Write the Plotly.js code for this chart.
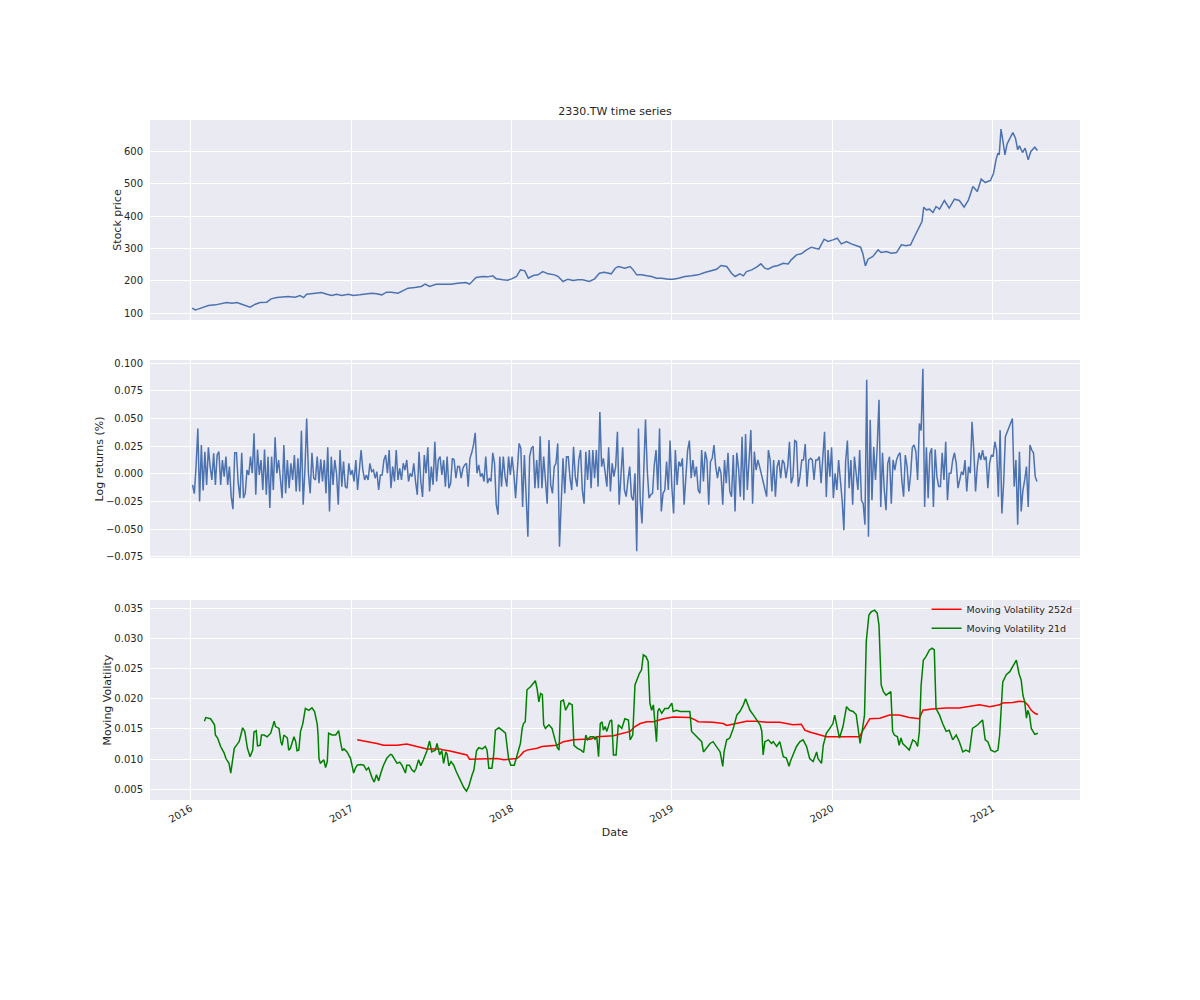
<!DOCTYPE html>
<html>
<head>
<meta charset="utf-8">
<title>2330.TW time series</title>
<script src="https://cdn.plot.ly/plotly-3.0.1.min.js"></script>
<style>
    html, body { margin: 0; padding: 0; background: #ffffff; }
    #grafico { width: 1200px; height: 1000px; }
</style>
</head>
<body>
<div id="grafico"></div>
<script>
/* ============================================================================
 * Datos
 * ========================================================================== */

const TITULO = "2330.TW time series";

// Precio de cierre
const PRICE_DATES = [
    "2016-01-04","2016-01-11","2016-01-19","2016-01-30","2016-02-10","2016-02-26","2016-03-12","2016-03-23",
    "2016-04-04","2016-04-15","2016-04-26","2016-05-08","2016-05-15","2016-05-27","2016-06-07","2016-06-22",
    "2016-07-02","2016-07-15","2016-07-30","2016-08-10","2016-08-26","2016-09-06","2016-09-14","2016-09-21",
    "2016-10-06","2016-10-25","2016-11-06","2016-11-17","2016-11-28","2016-12-10","2016-12-25","2017-01-05",
    "2017-01-20","2017-02-01","2017-02-16","2017-02-27","2017-03-11","2017-03-22","2017-04-02","2017-04-17",
    "2017-04-29","2017-05-10","2017-05-25","2017-06-09","2017-06-18","2017-06-28","2017-07-13","2017-08-01",
    "2017-08-16","2017-08-31","2017-09-19","2017-09-27","2017-10-12","2017-10-27","2017-11-08","2017-11-19",
    "2017-11-27","2017-12-12","2017-12-23","2018-01-01","2018-01-12","2018-01-21","2018-01-31","2018-02-08",
    "2018-02-19","2018-03-02","2018-03-13","2018-03-25","2018-04-09","2018-04-17","2018-04-28","2018-05-09",
    "2018-05-21","2018-06-01","2018-06-12","2018-06-27","2018-07-09","2018-07-20","2018-07-31","2018-08-16",
    "2018-08-25","2018-09-01","2018-09-09","2018-09-16","2018-09-28","2018-10-05","2018-10-13","2018-10-24",
    "2018-11-05","2018-11-16","2018-11-27","2018-12-09","2018-12-24","2019-01-04","2019-01-16","2019-01-31",
    "2019-02-15","2019-03-02","2019-03-17","2019-04-01","2019-04-13","2019-04-23","2019-05-06","2019-05-17",
    "2019-05-25","2019-06-05","2019-06-13","2019-06-20","2019-07-02","2019-07-13","2019-07-23","2019-08-01",
    "2019-08-08","2019-08-20","2019-08-31","2019-09-12","2019-09-23","2019-09-30","2019-10-12","2019-10-23",
    "2019-11-04","2019-11-15","2019-11-23","2019-12-02","2019-12-14","2019-12-23","2020-01-03","2020-01-13",
    "2020-01-22","2020-02-03","2020-02-14","2020-02-26","2020-03-06","2020-03-11","2020-03-17","2020-03-23",
    "2020-04-03","2020-04-15","2020-04-22","2020-05-04","2020-05-15","2020-05-27","2020-06-07","2020-06-18",
    "2020-06-28","2020-07-07","2020-07-16","2020-07-24","2020-07-28","2020-08-03","2020-08-10","2020-08-18",
    "2020-08-25","2020-09-02","2020-09-13","2020-09-24","2020-10-06","2020-10-17","2020-10-28","2020-11-07",
    "2020-11-17","2020-11-27","2020-12-06","2020-12-15","2020-12-27","2021-01-03","2021-01-09","2021-01-13",
    "2021-01-16","2021-01-20","2021-01-24","2021-01-29","2021-02-03","2021-02-16","2021-02-22","2021-02-27",
    "2021-03-03","2021-03-10","2021-03-16","2021-03-23","2021-03-29","2021-04-07","2021-04-13"
];
const PRICE_VALUES = [
    115.5,110.3,113.4,119.6,123.7,125.8,128.9,133,
    131,133,127.9,120.6,118.6,127.9,133,134,
    144.4,148.5,151.6,151.6,149.5,154.7,148.5,158.8,
    160.9,164,158.8,154.7,158.8,154.7,158.8,154.7,
    156.8,159.9,161.9,159.9,156.8,165,165,161.9,
    170.2,177.4,179.5,182.6,189.8,182.6,189.8,189.8,
    189.8,192.9,194.9,189.8,210.4,213.5,212.5,215.6,
    206.3,203.2,202.2,206.3,213.5,234.2,231,208.4,
    216.6,218.7,229,221.8,218.7,213.5,198,205.3,
    201.1,203.2,203.2,198,206.3,223.8,226.9,221.8,
    239.3,244.5,242.4,239.3,244.5,234.2,218.7,218.7,
    215.6,213.5,208.4,208.4,205.3,205.3,208.4,213.5,
    215.6,218.7,225.9,232.1,236.2,247.6,244.5,223.8,
    213.5,221.8,215.6,229,234.2,242.4,252.7,239.3,
    236.2,244.5,247.6,254.8,252.7,265.1,280.6,283.7,
    296.1,304.3,301.2,298.1,329.1,321.9,327,332.2,
    314.7,321.9,314.7,308.5,304.3,285.8,246.5,267.2,
    275.4,296.1,287.8,290.9,285.8,287.8,311.6,308.5,
    311.6,337.4,363.2,383.8,428.2,420,422,411.7,
    430.2,422,448.8,425.1,452.9,448.8,428.2,450.9,
    492.2,476.7,514.9,504.5,510.7,533.4,576.8,595.4,
    590.2,669.7,636.6,590.2,624.3,659.3,641.8,605.7,
    618,597.4,610.8,574.7,600.5,613.9,603.6
];

// Retornos logarítmicos, una muestra cada RET_STEP_DAYS días desde RET_START
// (null = feriado largo, la línea lo cruza en recta)
const RET_START = "2016-01-05";
const RET_STEP_DAYS = 4;
const RET_VALUES = [
    -0.010,-0.018,0.007,0.041,-0.025,0.026,-0.015,0.020,-0.010,0.024,
    0.0065,-0.0056,0.0185,-0.010,0.017,0.020,-0.010,0.0125,-0.0026,0.0155,
    -0.010,0.0065,-0.0207,-0.032,0.019,0.019,-0.0086,-0.022,0.019,-0.022,
    -0.0177,0.0034,-0.001,0.0155,0.0004,0.0366,-0.019,0.022,-0.001,0.0125,
    -0.0147,0.022,-0.019,0.0155,-0.031,0.0155,-0.0147,0.033,0.0004,0.0125,
    -0.004,-0.022,0.026,-0.0177,0.0125,-0.013,0.0095,-0.0056,0.017,-0.016,
    0.014,-0.016,0.039,-0.028,0.0034,0.050,0.0004,-0.0177,0.019,-0.004,
    -0.0056,0.0155,-0.0086,0.013,-0.007,0.0125,-0.0177,0.024,-0.034,0.0155,
    -0.010,0.0125,0.0004,-0.028,0.0215,-0.0116,0.011,-0.0116,-0.013,0.0095,
    -0.001,0.0034,-0.007,0.0125,-0.0147,0.005,0.0215,0.0034,-0.0056,-0.001,
    -0.0056,0.0095,0.002,0.0034,-0.004,0.002,-0.0147,-0.001,-0.001,0.0125,
    0.017,0.0004,0.0215,-0.013,0.0065,-0.007,0.0215,-0.0056,0.005,
    -0.0056,0.0095,0.0034,0.0125,-0.007,0.0004,-0.0026,0.0095,-0.007,-0.019,
    0.020,-0.007,-0.021,0.017,0.0004,0.024,-0.016,0.0065,-0.010,0.029,
    -0.007,0.0125,0.0155,-0.001,0.0125,-0.0116,0.0155,-0.013,-0.0086,0.014,
    0.0125,-0.004,0.0065,0.0065,-0.004,0.005,0.008,0.0095,-0.0116,0.014,
    0.019,0.026,0.037,0.0004,0.008,-0.0026,0.0004,-0.007,0.0155,-0.0086,
    -0.004,-0.007,0.019,0.0095,-0.028,-0.037,0.0155,-0.0116,0.0155,-0.0026,
    -0.0116,0.0155,-0.001,0.0155,0.0004,-0.022,0.0034,0.0275,0.023,-0.030,
    0.017,-0.0207,-0.057,0.0155,0.023,0.025,-0.013,0.0125,-0.013,0.034,
    -0.013,0.0155,-0.0116,-0.027,0.0305,-0.010,-0.0177,0.0065,0.0095,0.0275,
    -0.066,-0.030,0.014,-0.0177,0.0155,0.0155,-0.004,-0.0147,0.0245,-0.0026,
    -0.0116,0.0125,0.0215,-0.0147,-0.027,0.020,-0.0056,0.0215,-0.013,0.0215,
    -0.004,0.0215,-0.0116,0.056,0.0065,0.014,0.0034,-0.0116,0.024,-0.016,
    0.0095,-0.0026,
    0.0065,0.038,-0.028,-0.001,0.024,-0.0147,-0.0207,-0.0056,0.0065,-0.0207,
    -0.024,0.0004,-0.070,0.041,-0.024,-0.045,-0.0026,0.049,0.0034,-0.022,
    -0.019,-0.0177,0.008,0.0215,-0.0147,0.041,-0.034,-0.0177,-0.0147,0.011,
    -0.0147,0.030,-0.0116,-0.036,0.0215,-0.010,0.011,0.0065,0.014,-0.028,
    -0.0026,0.0215,0.030,-0.004,0.0125,-0.0026,0.0065,-0.0147,-0.0177,0.0215,
    -0.007,0.020,0.0125,-0.028,0.011,0.014,0.026,0.0065,-0.004,0.0065,
    0.0004,-0.028,0.0125,-0.0086,0.019,-0.016,-0.0207,0.017,-0.034,0.019,
    0.005,-0.0207,0.0335,-0.024,0.036,-0.0147,0.0125,0.0395,-0.027,0.020,
    0.0034,0.0125,0.0065,-0.001,-0.0056,-0.016,-0.0207,0.0215,0.0125,-0.016,
    0.0125,-0.0207,0.0065,0.0125,-0.004,0.0125,0.0095,-0.004,0.0065,0.029,
    -0.0086,-0.0026,0.030,0.029,-0.0116,-0.0026,0.0125,0.0125,0.027,-0.0116,
    0.0125,0.014,0.0125,-0.0056,0.0125,0.0125,0.0155,-0.0086,0.017,0.038,
    -0.021,0.0215,-0.0026,
    0.024,-0.022,0.0004,-0.0147,0.0125,-0.0056,-0.024,-0.051,0.011,0.030,
    -0.013,0.0125,-0.028,0.0155,-0.0026,-0.0147,0.0215,-0.024,-0.027,-0.046,
    0.085,-0.057,0.049,-0.024,0.0245,-0.0056,0.0245,0.067,-0.030,0.019,
    -0.0147,-0.033,0.0095,0.0155,-0.027,0.0125,0.0034,0.0125,0.017,0.019,
    -0.0056,-0.0207,0.017,0.0065,-0.016,-0.001,0.024,0.026,0.020,-0.0056,
    0.0455,0.039,0.095,-0.030,0.024,-0.022,0.0185,0.023,-0.030,0.022,
    -0.0026,-0.0116,-0.0116,0.019,-0.0056,0.029,-0.024,0.0004,0.0004,0.0125,
    0.019,0.0095,-0.013,-0.0056,0.002,-0.001,0.0125,-0.016,0.0065,0.0004,
    0.047,0.0215,-0.016,0.0065,0.019,0.0125,0.0215,0.0125,0.0155,-0.013,
    0.0095,0.017,0.0155,0.029,0.0215,-0.0207,0.0395,-0.036,-0.0086,0.0335,
    null,null,null,0.050,-0.0116,0.0125,-0.046,0.020,-0.034,-0.0147,
    -0.0056,0.0065,-0.030,0.026,0.0215,0.019,-0.0026,-0.007
];

// Volatilidad móvil 21 días
const VOL21_DATES = [
    "2016-02-01","2016-02-04","2016-02-15","2016-02-21","2016-02-24","2016-02-26","2016-03-02","2016-03-09",
    "2016-03-17","2016-03-21","2016-03-25","2016-03-28","2016-04-01","2016-04-05","2016-04-09","2016-04-16",
    "2016-04-20","2016-04-24","2016-04-28","2016-05-03","2016-05-09","2016-05-15","2016-05-21","2016-05-24",
    "2016-05-29","2016-06-01","2016-06-07","2016-06-10","2016-06-16","2016-06-23","2016-07-01","2016-07-09",
    "2016-07-12","2016-07-20","2016-07-24","2016-07-27","2016-07-31","2016-08-08","2016-08-11","2016-08-15",
    "2016-08-23","2016-08-27","2016-08-30","2016-09-03","2016-09-07","2016-09-12","2016-09-18","2016-09-26",
    "2016-10-03","2016-10-09","2016-10-15","2016-10-17","2016-10-19","2016-10-22","2016-10-30","2016-11-03",
    "2016-11-07","2016-11-10","2016-11-18","2016-11-26","2016-12-03","2016-12-07","2016-12-11","2016-12-15",
    "2016-12-22","2016-12-30","2017-01-02","2017-01-06","2017-01-10","2017-01-14","2017-01-22","2017-01-29",
    "2017-02-04","2017-02-09","2017-02-17","2017-02-22","2017-02-27","2017-03-04","2017-03-09","2017-03-15",
    "2017-03-23","2017-03-31","2017-04-03","2017-04-09","2017-04-15","2017-04-21","2017-04-26","2017-05-04",
    "2017-05-07","2017-05-13","2017-05-19","2017-05-24","2017-05-28","2017-06-03","2017-06-08","2017-06-14",
    "2017-06-22","2017-06-28","2017-07-03","2017-07-11","2017-07-15","2017-07-21","2017-07-26","2017-07-30",
    "2017-08-04","2017-08-07","2017-08-11","2017-08-16","2017-08-22","2017-08-28","2017-09-06","2017-09-14",
    "2017-09-20","2017-09-25","2017-10-03","2017-10-07","2017-10-13","2017-10-18","2017-10-26","2017-11-02",
    "2017-11-06","2017-11-10","2017-11-17","2017-11-21","2017-11-25","2017-12-03","2017-12-10","2017-12-18",
    "2017-12-25","2017-12-30","2018-01-07","2018-01-13","2018-01-21","2018-01-25","2018-01-28","2018-02-01",
    "2018-02-05","2018-02-13","2018-02-20","2018-02-24","2018-02-28","2018-03-04","2018-03-08","2018-03-12",
    "2018-03-15","2018-03-19","2018-03-27","2018-04-03","2018-04-11","2018-04-15","2018-04-19","2018-04-23",
    "2018-04-29","2018-05-04","2018-05-12","2018-05-19","2018-05-23","2018-05-31","2018-06-08","2018-06-14",
    "2018-06-19","2018-06-23","2018-06-29","2018-07-07","2018-07-10","2018-07-14","2018-07-18","2018-07-22",
    "2018-07-26","2018-07-29","2018-08-02","2018-08-06","2018-08-13","2018-08-17","2018-08-21","2018-08-27",
    "2018-09-01","2018-09-09","2018-09-16","2018-09-24","2018-09-28","2018-10-04","2018-10-09","2018-10-13",
    "2018-10-19","2018-10-24","2018-10-28","2018-11-03","2018-11-08","2018-11-12","2018-11-16","2018-11-20",
    "2018-11-24","2018-11-27","2018-11-30","2018-12-03","2018-12-09","2018-12-16","2018-12-24","2019-01-01",
    "2019-01-04","2019-01-12","2019-01-20","2019-01-31","2019-02-11","2019-02-15","2019-02-23","2019-03-02",
    "2019-03-10","2019-03-14","2019-03-21","2019-03-29","2019-04-05","2019-04-13","2019-04-21","2019-04-27",
    "2019-04-30","2019-05-06","2019-05-13","2019-05-21","2019-05-29","2019-06-05","2019-06-13","2019-06-18",
    "2019-06-23","2019-06-28","2019-07-06","2019-07-13","2019-07-21","2019-07-25","2019-07-28","2019-08-01",
    "2019-08-09","2019-08-16","2019-08-20","2019-08-28","2019-09-04","2019-09-12","2019-09-19","2019-09-25",
    "2019-09-28","2019-10-04","2019-10-12","2019-10-20","2019-10-27","2019-11-04","2019-11-11","2019-11-19",
    "2019-11-27","2019-11-30","2019-12-04","2019-12-08","2019-12-12","2019-12-19","2019-12-27","2020-01-03",
    "2020-01-07","2020-01-11","2020-01-18","2020-01-26","2020-02-03","2020-02-10","2020-02-18","2020-02-25",
    "2020-03-02","2020-03-05","2020-03-10","2020-03-15","2020-03-19","2020-03-25","2020-03-30","2020-04-07",
    "2020-04-13","2020-04-17","2020-04-22","2020-04-27","2020-05-03","2020-05-09","2020-05-14","2020-05-18",
    "2020-05-22","2020-05-29","2020-06-02","2020-06-06","2020-06-10","2020-06-17","2020-06-25","2020-07-03",
    "2020-07-09","2020-07-14","2020-07-18","2020-07-22","2020-07-27","2020-08-02","2020-08-10","2020-08-16",
    "2020-08-21","2020-08-25","2020-09-02","2020-09-09","2020-09-17","2020-09-24","2020-10-02","2020-10-10",
    "2020-10-17","2020-10-25","2020-11-01","2020-11-09","2020-11-16","2020-11-28","2020-12-09","2020-12-15",
    "2020-12-21","2020-12-28","2021-01-06","2021-01-13","2021-01-17","2021-01-24","2021-02-01","2021-02-09",
    "2021-02-16","2021-02-24","2021-03-02","2021-03-07","2021-03-11","2021-03-15","2021-03-19","2021-03-22",
    "2021-03-26","2021-03-30","2021-04-03","2021-04-07","2021-04-14"
];
const VOL21_VALUES = [
    0.0163,0.0169,0.0167,0.0159,0.0157,0.0140,0.0135,0.0121,
    0.0110,0.0101,0.0096,0.0093,0.0077,0.0101,0.0118,0.0125,
    0.0129,0.0140,0.0152,0.0146,0.0118,0.0104,0.0115,0.0145,
    0.0147,0.0122,0.0123,0.0140,0.0140,0.0137,0.0143,0.0163,
    0.0154,0.0151,0.0129,0.0123,0.0140,0.0135,0.0115,0.0118,
    0.0137,0.0129,0.0114,0.0115,0.0146,0.0158,0.0184,0.0181,
    0.0185,0.0179,0.0158,0.0140,0.0101,0.0093,0.0099,0.0086,
    0.0096,0.0143,0.0140,0.0140,0.0147,0.0129,0.0114,0.0117,
    0.0112,0.0101,0.0089,0.0077,0.0085,0.0090,0.0091,0.0090,
    0.0082,0.0086,0.0069,0.0062,0.0074,0.0064,0.0077,0.0090,
    0.0102,0.0108,0.0107,0.0101,0.0093,0.0095,0.0090,0.0077,
    0.0090,0.0090,0.0082,0.0079,0.0084,0.0099,0.0089,0.0099,
    0.0114,0.0130,0.0112,0.0115,0.0126,0.0107,0.0114,0.0093,
    0.0112,0.0108,0.0089,0.0096,0.0090,0.0079,0.0065,0.0053,
    0.0047,0.0054,0.0074,0.0082,0.0114,0.0119,0.0117,0.0121,
    0.0115,0.0085,0.0085,0.0107,0.0148,0.0152,0.0148,0.0143,
    0.0101,0.0090,0.0090,0.0107,0.0126,0.0151,0.0159,0.0162,
    0.0215,0.0220,0.0226,0.0230,0.0217,0.0195,0.0209,0.0207,
    0.0157,0.0151,0.0157,0.0151,0.0129,0.0119,0.0115,0.0196,
    0.0198,0.0181,0.0193,0.0190,0.0123,0.0118,0.0115,0.0111,
    0.0140,0.0132,0.0137,0.0137,0.0133,0.0137,0.0104,0.0159,
    0.0162,0.0148,0.0154,0.0146,0.0163,0.0165,0.0107,0.0107,
    0.0157,0.0151,0.0167,0.0165,0.0132,0.0140,0.0223,0.0231,
    0.0242,0.0248,0.0273,0.0270,0.0262,0.0193,0.0181,0.0190,
    0.0157,0.0129,0.0179,0.0184,0.0176,0.0184,0.0184,0.0193,
    0.0179,0.0181,0.0179,0.0179,0.0179,0.0146,0.0140,0.0135,
    0.0129,0.0112,0.0118,0.0126,0.0129,0.0121,0.0112,0.0088,
    0.0112,0.0132,0.0135,0.0151,0.0173,0.0179,0.0190,0.0200,
    0.0190,0.0181,0.0173,0.0165,0.0157,0.0146,0.0107,0.0129,
    0.0132,0.0126,0.0129,0.0121,0.0129,0.0104,0.0102,0.0088,
    0.0096,0.0107,0.0121,0.0129,0.0132,0.0121,0.0101,0.0096,
    0.0112,0.0101,0.0096,0.0093,0.0123,0.0143,0.0151,0.0159,
    0.0173,0.0157,0.0135,0.0154,0.0187,0.0181,0.0179,0.0174,
    0.0140,0.0126,0.0148,0.0173,0.0295,0.0339,0.0344,0.0347,
    0.0342,0.0322,0.0223,0.0212,0.0206,0.0209,0.0212,0.0146,
    0.0140,0.0137,0.0123,0.0135,0.0126,0.0121,0.0115,0.0132,
    0.0129,0.0121,0.0146,0.0223,0.0264,0.0270,0.0281,0.0284,
    0.0281,0.0184,0.0173,0.0159,0.0146,0.0148,0.0132,0.0140,
    0.0129,0.0112,0.0115,0.0112,0.0151,0.0157,0.0165,0.0132,
    0.0129,0.0115,0.0112,0.0115,0.0140,0.0228,0.0240,0.0245,
    0.0253,0.0264,0.0242,0.0231,0.0206,0.0195,0.0168,0.0181,
    0.0173,0.0151,0.0146,0.0141,0.0143
];

// Volatilidad móvil 252 días
const VOL252_DATES = [
    "2017-01-14","2017-01-29","2017-02-13","2017-02-28","2017-03-15","2017-04-15","2017-05-07","2017-05-30",
    "2017-06-14","2017-06-22","2017-07-22","2017-07-30","2017-08-11","2017-08-22","2017-09-06","2017-09-21",
    "2017-09-27","2017-10-14","2017-11-10","2017-11-29","2017-12-14","2018-01-02","2018-01-13","2018-01-21",
    "2018-01-28","2018-02-05","2018-02-28","2018-03-11","2018-03-30","2018-04-14","2018-04-29","2018-05-22",
    "2018-06-14","2018-06-29","2018-07-14","2018-08-21","2018-09-28","2018-10-09","2018-10-21","2018-11-05",
    "2018-11-20","2018-12-13","2019-01-04","2019-01-20","2019-02-11","2019-02-23","2019-03-02","2019-04-05",
    "2019-04-28","2019-05-06","2019-05-29","2019-06-20","2019-07-13","2019-08-05","2019-09-04","2019-09-19",
    "2019-10-04","2019-10-23","2019-10-31","2019-11-11","2019-12-04","2019-12-19","2020-01-18","2020-02-18",
    "2020-03-04","2020-03-10","2020-03-19","2020-03-27","2020-04-19","2020-05-11","2020-06-02","2020-06-25",
    "2020-07-18","2020-07-26","2020-08-17","2020-09-17","2020-10-17","2020-11-09","2020-12-02","2020-12-25",
    "2021-01-17","2021-01-23","2021-02-16","2021-03-03","2021-03-15","2021-03-22","2021-03-30","2021-04-07",
    "2021-04-14"
];
const VOL252_VALUES = [
    0.0132,0.0130,0.0129,0.0126,0.0123,0.0123,0.0125,0.0121,
    0.0119,0.0117,0.0117,0.0115,0.0114,0.0112,0.0110,0.0107,
    0.0100,0.0100,0.0100,0.0101,0.0099,0.0100,0.0101,0.0106,
    0.0112,0.0115,0.0118,0.0121,0.0122,0.0123,0.0129,0.0132,
    0.0133,0.0133,0.0137,0.0139,0.0146,0.0154,0.0159,0.0162,
    0.0162,0.0167,0.0170,0.0170,0.0169,0.0165,0.0162,0.0161,
    0.0159,0.0156,0.0159,0.0163,0.0163,0.0161,0.0161,0.0159,
    0.0157,0.0158,0.0148,0.0145,0.0140,0.0137,0.0137,0.0137,
    0.0137,0.0146,0.0157,0.0167,0.0168,0.0173,0.0173,0.0169,
    0.0167,0.0181,0.0183,0.0185,0.0185,0.0187,0.0190,0.0187,
    0.0190,0.0193,0.0194,0.0196,0.0195,0.0190,0.0181,0.0176,
    0.0174
];

const EJE_X_RANGO = ["2015-09-30", "2021-07-19"];


/* ============================================================================
 * Estilo
 * ========================================================================== */

const FUENTE = "DejaVu Sans, sans-serif";
const COLOR_TEXTO = "#262626";
const COLOR_FONDO = "#EAEAF2";
const AZUL = "#4C72B0";


/* ============================================================================
 * Funciones Auxiliares
 * ========================================================================== */

/**
 * Fechas de la serie de retornos (una cada RET_STEP_DAYS días).
 */
function fechasRetornos() {
    const inicio = new Date(RET_START + "T00:00:00Z");
    const fechas = [];

    for (let i = 0; i < RET_VALUES.length; i++) {
        const d = new Date(inicio.getTime() + i * RET_STEP_DAYS * 86400000);
        fechas.push(d.toISOString().slice(0, 10));
    }

    return fechas;
}

function ejeY(rango, dtick, formato, titulo, dominio) {
    return {
        domain: dominio,
        range: rango,
        dtick: dtick,
        tick0: 0,
        tickformat: formato,
        showgrid: true,
        gridcolor: "#ffffff",
        gridwidth: 1,
        zeroline: false,
        showline: false,
        ticks: "outside",
        ticklen: 4,
        tickcolor: "rgba(0,0,0,0)",
        tickfont: { family: FUENTE, size: 10, color: COLOR_TEXTO },
        title: {
            text: titulo,
            font: { family: FUENTE, size: 11, color: COLOR_TEXTO },
            standoff: 0
        }
    };
}

function ejeX(extra) {
    return Object.assign({
        type: "date",
        range: EJE_X_RANGO,
        dtick: "M12",
        tick0: "2016-01-01",
        tickformat: "%Y",
        showgrid: true,
        gridcolor: "#ffffff",
        gridwidth: 1,
        zeroline: false,
        showline: false,
        ticks: "",
        tickfont: { family: FUENTE, size: 10, color: COLOR_TEXTO }
    }, extra);
}


/* ============================================================================
 * Construcción del Gráfico
 * ========================================================================== */

function crearGrafico() {

    const tracePrecio = {
        type: "scatter",
        mode: "lines",
        x: PRICE_DATES,
        y: PRICE_VALUES,
        xaxis: "x",
        yaxis: "y",
        line: { color: AZUL, width: 1.5 },
        showlegend: false
    };

    const traceRetornos = {
        type: "scatter",
        mode: "lines",
        x: fechasRetornos(),
        y: RET_VALUES,
        xaxis: "x2",
        yaxis: "y2",
        connectgaps: true,
        line: { color: AZUL, width: 1.5 },
        showlegend: false
    };

    const traceVol252 = {
        type: "scatter",
        mode: "lines",
        name: "Moving Volatility 252d",
        x: VOL252_DATES,
        y: VOL252_VALUES,
        xaxis: "x3",
        yaxis: "y3",
        line: { color: "#ff0000", width: 1.5 }
    };

    const traceVol21 = {
        type: "scatter",
        mode: "lines",
        name: "Moving Volatility 21d",
        x: VOL21_DATES,
        y: VOL21_VALUES,
        xaxis: "x3",
        yaxis: "y3",
        line: { color: "#008000", width: 1.5 }
    };

    const layout = {
        width: 1200,
        height: 1000,
        paper_bgcolor: "#ffffff",
        plot_bgcolor: COLOR_FONDO,
        margin: { l: 150, r: 120, t: 120, b: 200, pad: 0 },
        font: { family: FUENTE, size: 10, color: COLOR_TEXTO },
        title: {
            text: TITULO,
            font: { family: FUENTE, size: 11, color: COLOR_TEXTO },
            x: 0.5125,
            xanchor: "center",
            y: 0.885,
            yanchor: "bottom"
        },

        xaxis: ejeX({ anchor: "y", showticklabels: false }),
        xaxis2: ejeX({ anchor: "y2", matches: "x", showticklabels: false }),
        xaxis3: ejeX({
            anchor: "y3",
            matches: "x",
            tickangle: -30,
            title: {
                text: "Date",
                font: { family: FUENTE, size: 11, color: COLOR_TEXTO },
                standoff: 4
            }
        }),

        yaxis: ejeY([79, 698], 100, "d", "Stock price", [0.7059, 1]),
        yaxis2: ejeY([-0.0762, 0.103], 0.025, ".3f", "Log returns (%)", [0.3559, 0.6471]),
        yaxis3: ejeY([0.00323, 0.03638], 0.005, ".3f", "Moving Volatility", [0, 0.2941]),

        legend: {
            x: 0.835,
            y: 0.302,
            xanchor: "left",
            yanchor: "top",
            bgcolor: "rgba(0,0,0,0)",
            borderwidth: 0,
            font: { family: FUENTE, size: 9.5, color: COLOR_TEXTO },
            tracegroupgap: 0
        },
        showlegend: true
    };

    Plotly.newPlot(
        "grafico",
        [tracePrecio, traceRetornos, traceVol252, traceVol21],
        layout,
        { staticPlot: true, displayModeBar: false }
    );
}


/* ============================================================================
 * Inicialización
 * ========================================================================== */

document.addEventListener("DOMContentLoaded", () => {

    crearGrafico();

});
</script>
</body>
</html>
